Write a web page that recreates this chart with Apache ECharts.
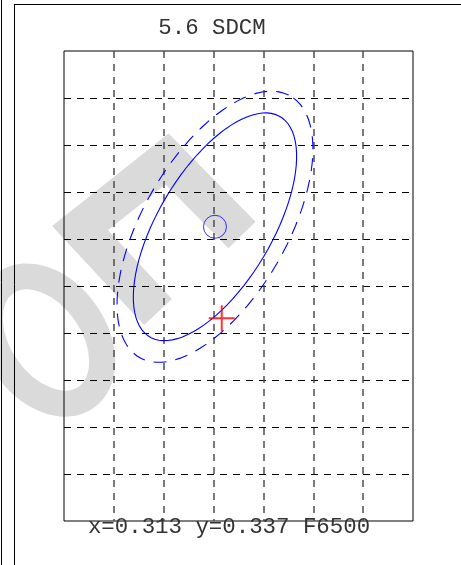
<!DOCTYPE html>
<html>
<head>
<meta charset="utf-8">
<script src="https://cdn.jsdelivr.net/npm/echarts@6/dist/echarts.min.js"></script>
<style>
  html, body { margin: 0; padding: 0; background: #fff; }
  #chart { width: 461px; height: 565px; }
</style>
</head>
<body>
<div id="chart"></div>
<script>
const titleText = '5.6 SDCM';
const footerText = 'x=0.313 y=0.337 F6500';

// chromaticity window shown in the box
const xRange = [0.295, 0.330];
const yRange = [0.310, 0.360];
const gridStep = 0.005;

// ellipses: [cx, cy, semi-major, semi-minor, angle in degrees]
const solidEllipse = [0.31014, 0.34130, 0.01342, 0.00581, 61.5];
const dashedEllipse = [0.31014, 0.34130, 0.01584, 0.00732, 62.2];

const targetPoint = [0.31014, 0.34130];
const measuredPoint = [0.31082, 0.33156];

const chart = echarts.init(document.getElementById('chart'));

function ellipseRenderer(dash) {
  return function (params, api) {
    const cx = api.value(0);
    const cy = api.value(1);
    const a = api.value(2);
    const b = api.value(3);
    const t = api.value(4) * Math.PI / 180;
    const pts = [];
    for (let i = 0; i <= 90; i++) {
      const u = (i / 90) * Math.PI * 2;
      const ex = a * Math.cos(u);
      const ey = b * Math.sin(u);
      pts.push(api.coord([
        cx + ex * Math.cos(t) - ey * Math.sin(t),
        cy + ex * Math.sin(t) + ey * Math.cos(t)
      ]));
    }
    return {
      type: 'polyline',
      shape: { points: pts },
      style: { stroke: '#0000ff', lineWidth: 1.1, fill: null, lineDash: dash }
    };
  };
}

const gray = '#dadada';

const option = {
  animation: false,
  backgroundColor: '#fff',
  graphic: [
    // faint watermark behind everything
    {
      type: 'ellipse', z: -100, x: 46, y: 340, rotation: 35 * Math.PI / 180,
      shape: { cx: 0, cy: 0, rx: 48, ry: 70 },
      style: { fill: null, stroke: gray, lineWidth: 26 }
    },
    {
      type: 'polyline', z: -100,
      shape: { points: [[158, 312], [80, 228], [167, 159], [242, 235]] },
      style: { fill: null, stroke: gray, lineWidth: 38, lineJoin: 'miter' }
    },
    // page frame lines
    { type: 'line', z: 50, shape: { x1: 1.5, y1: 0, x2: 1.5, y2: 565 }, style: { stroke: '#000', lineWidth: 1 } },
    { type: 'line', z: 50, shape: { x1: 14.5, y1: 4, x2: 14.5, y2: 565 }, style: { stroke: '#000', lineWidth: 1 } },
    { type: 'line', z: 50, shape: { x1: 14, y1: 4.5, x2: 461, y2: 4.5 }, style: { stroke: '#000', lineWidth: 1 } },
    {
      type: 'text', z: 100, x: 212, y: 28,
      style: {
        text: titleText, fill: '#333', font: '22.4px "Liberation Mono", monospace',
        textAlign: 'center', textVerticalAlign: 'middle'
      }
    },
    {
      type: 'text', z: 100, x: 229, y: 527,
      style: {
        text: footerText, fill: '#333', font: '22.4px "Liberation Mono", monospace',
        textAlign: 'center', textVerticalAlign: 'middle'
      }
    }
  ],
  grid: {
    left: 64, top: 51, width: 349, height: 470,
    show: true, borderColor: '#000', borderWidth: 1, backgroundColor: 'transparent'
  },
  xAxis: {
    type: 'value', min: xRange[0], max: xRange[1], interval: gridStep,
    axisLine: { show: false }, axisTick: { show: false }, axisLabel: { show: false },
    splitLine: {
      show: true, showMinLine: false, showMaxLine: false,
      lineStyle: { color: '#4d4d4d', width: 1.5, type: [7, 6] }
    }
  },
  yAxis: {
    type: 'value', min: yRange[0], max: yRange[1], interval: gridStep,
    axisLine: { show: false }, axisTick: { show: false }, axisLabel: { show: false },
    splitLine: {
      show: true, showMinLine: false, showMaxLine: false,
      lineStyle: { color: '#000', width: 1, type: [7, 6] }
    }
  },
  series: [
    {
      type: 'custom', renderItem: ellipseRenderer([13, 9]),
      data: [dashedEllipse], z: 3
    },
    {
      type: 'custom', renderItem: ellipseRenderer(null),
      data: [solidEllipse], z: 3
    },
    {
      type: 'scatter', data: [targetPoint], symbol: 'circle', symbolSize: 23, z: 4,
      itemStyle: { color: 'rgba(0,0,0,0)', borderColor: '#0000ff', borderWidth: 1 }
    },
    {
      type: 'scatter', data: [measuredPoint], symbol: 'path://M0,13L26,13M13,0L13,26',
      symbolSize: 26, z: 5,
      itemStyle: { color: 'rgba(0,0,0,0)', borderColor: '#ff0000', borderWidth: 2 }
    }
  ]
};

chart.setOption(option);
</script>
</body>
</html>
